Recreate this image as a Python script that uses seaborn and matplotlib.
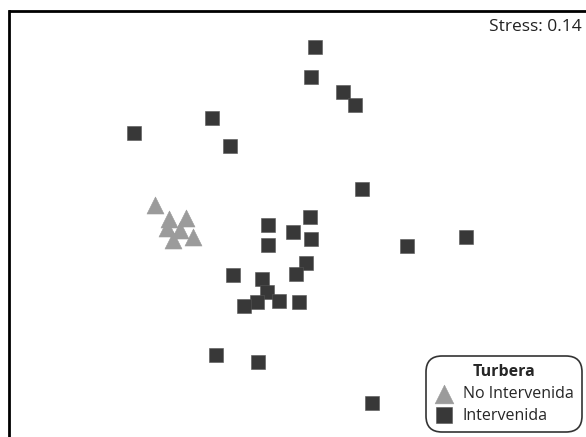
import matplotlib
matplotlib.use("Agg")
import matplotlib.pyplot as plt
import seaborn as sns
import pandas as pd

# NMDS scores
no_int_x = [-0.580, -0.524, -0.456, -0.532, -0.480, -0.508, -0.428]
no_int_y = [0.180, 0.124, 0.128, 0.088, 0.080, 0.040, 0.052]

int_x = [0.060, 0.044, 0.172, 0.220, -0.352, -0.664, -0.280, 0.248,
         -0.128, 0.040, -0.028, 0.044, -0.128, 0.024, -0.016, -0.268,
         -0.152, -0.132, -0.084, -0.172, -0.224, -0.004, -0.336, -0.168,
         0.288, 0.428, 0.664]
int_y = [0.812, 0.692, 0.632, 0.580, 0.528, 0.468, 0.416, 0.244,
         0.100, 0.132, 0.072, 0.044, 0.020, -0.052, -0.096, -0.100,
         -0.116, -0.168, -0.204, -0.208, -0.224, -0.208, -0.420, -0.448,
         -0.612, 0.016, 0.052]

groups = ["No Intervenida", "Intervenida"]
legend_title = "Turbera"
stress_label = "Stress: 0.14"

df = pd.DataFrame({
    "NMDS1": no_int_x + int_x,
    "NMDS2": no_int_y + int_y,
    "Turbera": [groups[0]] * len(no_int_x) + [groups[1]] * len(int_x),
})

sns.set_style("white")
plt.rcParams["font.family"] = ["Open Sans", "DejaVu Sans"]

fig = plt.figure(figsize=(5.86, 4.37), dpi=100)
ax = fig.add_axes([9.5 / 586, 0.0, (620 - 9.5) / 586, (437 - 11) / 437])

palette = {groups[0]: "#9b9b9b", groups[1]: "#383838"}
markers = {groups[0]: "^", groups[1]: "s"}

for g in groups:
    sub = df[df["Turbera"] == g]
    sns.scatterplot(data=sub, x="NMDS1", y="NMDS2", color=palette[g],
                    marker=markers[g], s=150 if g == groups[0] else 112,
                    edgecolor="#555555" if g == groups[1] else palette[g],
                    linewidth=0.4, ax=ax, label=g, zorder=3)

ax.set_xlim(-1.162, 1.28)
ax.set_ylim(-0.748, 0.956)
ax.set_xticks([])
ax.set_yticks([])
ax.set_xlabel("")
ax.set_ylabel("")
for side in ["right", "bottom"]:
    ax.spines[side].set_visible(False)
for side in ["top", "left"]:
    ax.spines[side].set_color("black")
    ax.spines[side].set_linewidth(2.0)

fig.text(582 / 586, 1 - 27 / 437, stress_label, ha="right", va="center",
         fontsize=12.5, color="#222222")

leg = ax.legend(title=legend_title, loc="lower right",
                bbox_to_anchor=(580 / 586, 7 / 437),
                bbox_transform=fig.transFigure, frameon=True, fancybox=True,
                fontsize=11.5, title_fontsize=11.5, handletextpad=0.55,
                borderpad=0.4, labelspacing=0.35, handlelength=1.2,
                borderaxespad=0, markerscale=1.1)
leg.get_title().set_fontweight("bold")
frame = leg.get_frame()
frame.set_edgecolor("#333333")
frame.set_linewidth(1.2)
frame.set_boxstyle("round,pad=0.15,rounding_size=1.0")
frame.set_alpha(1)

fig.savefig("out.png", dpi=100)
